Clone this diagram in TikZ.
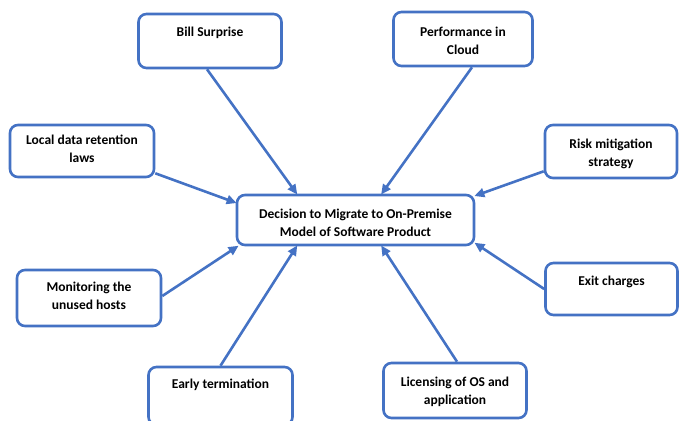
\documentclass[tikz,border=0pt]{standalone}
\usepackage{fontspec}
\setmainfont{Carlito}
\usetikzlibrary{arrows.meta}
\definecolor{bluel}{HTML}{4472C4}
\begin{document}
\begin{tikzpicture}[x=1pt,y=-1pt,
  box/.style={draw=bluel, line width=2.6pt, rounded corners=8pt, fill=white, inner sep=0pt},
  lbl/.style={anchor=north, inner sep=0pt, align=center, font=\fontsize{13.5}{18}\selectfont\bfseries, text=black},
  conn/.style={draw=bluel, line width=2.6pt, -{Triangle[length=10pt,width=9pt]}, shorten >=-1pt}]
\useasboundingbox (0,0) rectangle (679,420);
% boxes
\node[box, minimum width=237pt, minimum height=50pt] (c) at (355.5,220) {};
\node[box, minimum width=143pt, minimum height=54pt] (bill) at (210,41) {};
\node[box, minimum width=139pt, minimum height=54pt] (perf) at (463,39) {};
\node[box, minimum width=144pt, minimum height=52pt] (local) at (82,151) {};
\node[box, minimum width=132pt, minimum height=53pt] (risk) at (611,151.5) {};
\node[box, minimum width=144pt, minimum height=56pt] (mon) at (89,298) {};
\node[box, minimum width=132pt, minimum height=52pt] (exit) at (611.5,289) {};
\node[box, minimum width=144pt, minimum height=58pt] (early) at (220.5,396) {};
\node[box, minimum width=143pt, minimum height=55pt] (lic) at (455,390.5) {};
% labels
\node[lbl] (tc) at ([yshift=-15pt]c.north) {Decision to Migrate to On-Premise\\Model of Software Product};
\node[lbl] (tbill) at ([yshift=-14pt]bill.north) {Bill Surprise};
\node[lbl] (tperf) at ([yshift=-16pt]perf.north) {Performance in\\Cloud};
\node[lbl] (tlocal) at ([yshift=-11pt]local.north) {Local data retention\\laws};
\node[lbl] (trisk) at ([yshift=-15pt]risk.north) {Risk mitigation\\strategy};
\node[lbl] (tmon) at ([yshift=-13pt]mon.north) {Monitoring the\\unused hosts};
\node[lbl] (texit) at ([yshift=-14pt]exit.north) {Exit charges};
\node[lbl] (tearly) at ([yshift=-13pt]early.north) {Early termination};
\node[lbl] (tlic) at ([yshift=-15pt]lic.north) {Licensing of OS and\\application};
% connectors
\draw[conn] ([xshift=-3pt]bill.south) -- ([xshift=61pt]c.north west);
\draw[conn] ([xshift=9pt]perf.south) -- ([xshift=146pt]c.north west);
\draw[conn] ([yshift=5pt]local.south east) -- ([yshift=-9pt]c.north west);
\draw[conn] ([yshift=8pt]risk.south west) -- ([yshift=-2pt]c.north east);
\draw[conn] ([yshift=2pt]mon.east) -- ([xshift=2pt]c.south west);
\draw[conn] (exit.west) -- ([yshift=3pt]c.south east);
\draw[conn] (early.north) -- ([xshift=61pt]c.south west);
\draw[conn] ([xshift=2pt]lic.north) -- ([xshift=146pt]c.south west);
\end{tikzpicture}
\end{document}
